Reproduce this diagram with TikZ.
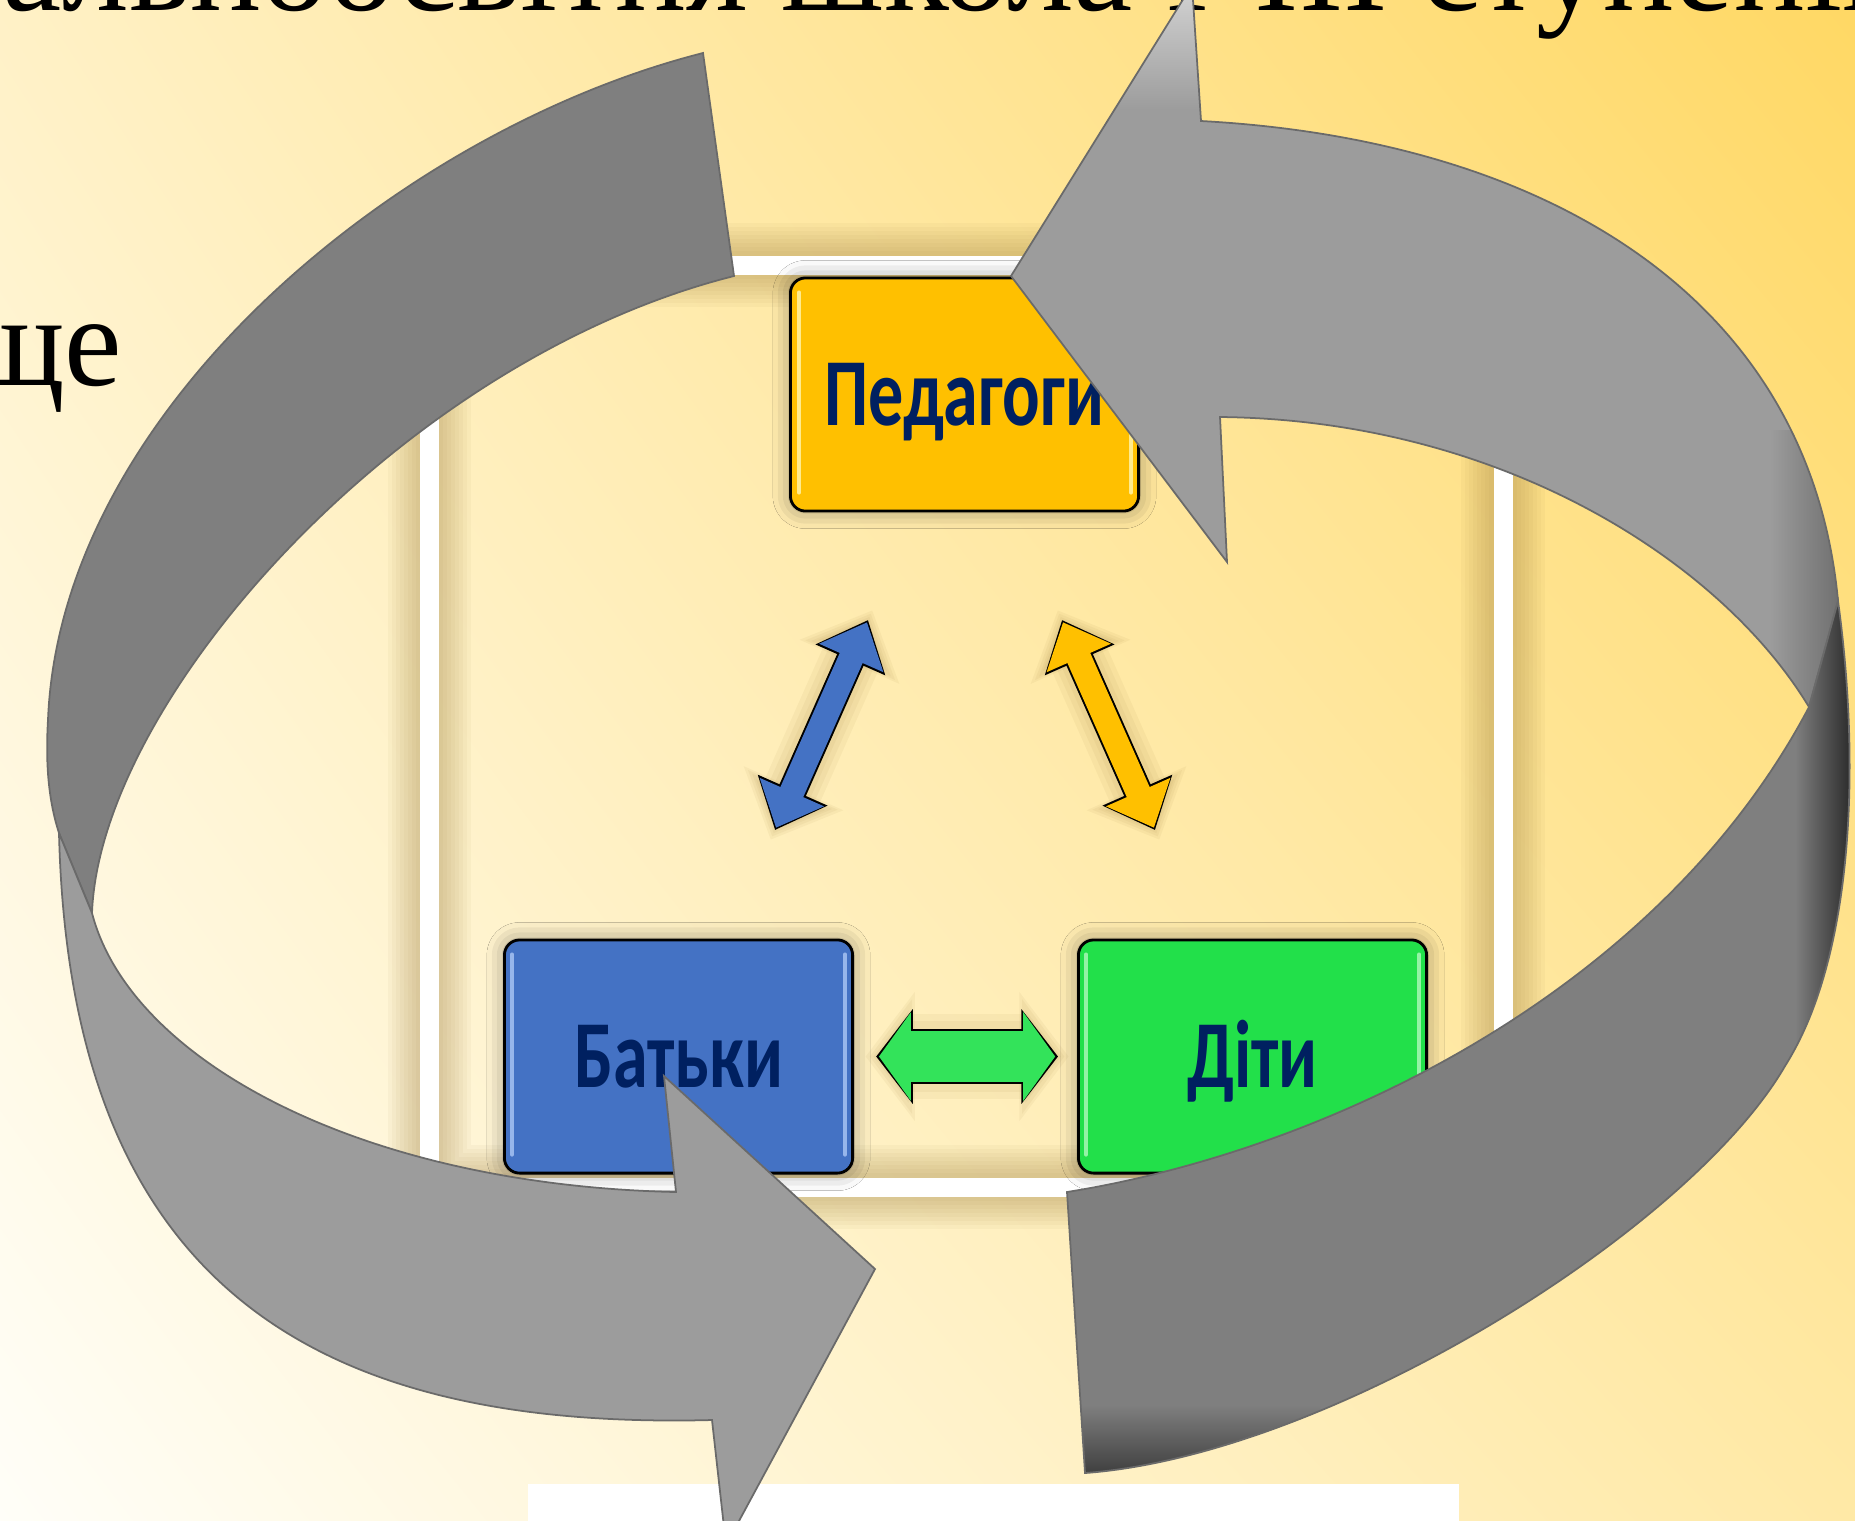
\documentclass[tikz,border=0pt]{standalone}
\usepackage{fontspec}
\setmainfont{Liberation Serif}
\newfontfamily\boxfont{Carlito}
\usetikzlibrary{arrows.meta,shadows.blur,shadings,calc}
\definecolor{bgUL}{HTML}{FFF1C6}
\definecolor{bgUR}{HTML}{FFD864}
\definecolor{bgLL}{HTML}{FFFEF8}
\definecolor{bgLR}{HTML}{FFE9A6}
\definecolor{frameSh}{HTML}{9C7E3C}
\definecolor{navy}{HTML}{002060}
\definecolor{pedC}{HTML}{FFC000}
\definecolor{batC}{HTML}{4472C4}
\definecolor{ditC}{HTML}{22E04A}
\definecolor{grnA}{HTML}{33E35A}
\definecolor{pedGl}{HTML}{FFF3A6}
\definecolor{batGl}{HTML}{A6C2F2}
\definecolor{ditGl}{HTML}{A8F7B5}
\definecolor{gLight}{HTML}{9C9C9C}
\definecolor{gDark}{HTML}{7F7F7F}
\definecolor{gEdge}{HTML}{6A6A6A}
\definecolor{gBlack}{HTML}{1E1E1E}
\definecolor{gHigh}{HTML}{D6D6D6}

\newcommand\LDarkPath{(703,53) .. controls (400,130) and (60,410) .. (48,720) .. controls (45,770) and (50,805) .. (59,833) -- (92,913) .. controls (100,700) and (400,360) .. (734,276) -- cycle}
\newcommand\LLightPath{(59,833) .. controls (70,1290) and (320,1430) .. (712,1420) -- (726,1545) -- (875,1269) -- (664,1076) -- (676,1192) .. controls (360,1185) and (130,1060) .. (92,913) -- cycle}
\newcommand\RLightPath{(1011,276) -- (1192,-15) -- (1201,121) .. controls (1550,140) and (1810,300) .. (1838,601) -- (1809,707) .. controls (1720,560) and (1500,420) .. (1220,417) -- (1227,562) -- cycle}
\newcommand\RDarkPath{(1809,707) -- (1838,601) .. controls (1860,760) and (1855,955) .. (1785,1066) .. controls (1690,1230) and (1330,1455) .. (1085,1473) -- (1067,1192) .. controls (1330,1150) and (1660,990) .. (1809,707) -- cycle}

\tikzset{
  box/.style={draw=black, line width=0.8pt, rounded corners=4.3pt,
    minimum width=3.48cm, minimum height=2.33cm, inner sep=0pt, text=navy,
    font=\boxfont\bfseries\fontsize{27.3pt}{30pt}\selectfont,
    text height=17.4pt, text depth=0pt,
    blur shadow={shadow xshift=0pt,shadow yshift=0pt,shadow blur radius=5pt,shadow opacity=40}},
  gloss/.style={line width=1.2pt, line cap=round, opacity=0.85},
  bigedge/.style={draw=gEdge, line width=0.5pt},
  titletext/.style={font=\fontsize{37.9pt}{41pt}\selectfont, inner sep=0pt},
  outl/.style={black},
  glow/.style={frameSh, opacity=0.07},
}
\newcommand\DiagGlow[2]{%
  \draw[glow, line width=17pt, shorten <=-3pt, shorten >=-3pt, {Triangle[length=16pt,width=30pt]}-{Triangle[length=16pt,width=30pt]}] (#1) -- (#2);
  \draw[glow, line width=14pt, shorten <=-2pt, shorten >=-2pt, {Triangle[length=14.5pt,width=27pt]}-{Triangle[length=14.5pt,width=27pt]}] (#1) -- (#2);
  \draw[glow, line width=11pt, shorten <=-1pt, shorten >=-1pt, {Triangle[length=13pt,width=24pt]}-{Triangle[length=13pt,width=24pt]}] (#1) -- (#2);
}

\begin{document}
\begin{tikzpicture}[x=0.01cm,y=-0.01cm]
\useasboundingbox (0,0) rectangle (1855,1520);
\clip (0,0) rectangle (1855,1520);
% background
\shade[upper left=bgUL,upper right=bgUR,lower left=bgLL,lower right=bgLR] (0,0) rectangle (1855,1520);

% texts of the slide
\node[titletext, anchor=base east] (title) at (1906,10) {Загальноосвітня школа І-ІІІ ступенів};
\node[titletext, anchor=base east, font=\fontsize{36.8pt}{40pt}\selectfont] (sche) at (123,385) {ще};

% picture frame with soft shadow
\foreach \k in {1,...,8} {\draw[frameSh, opacity=0.05, line width=5.4pt+\k*2.3pt] (429.5,265) rectangle (1503,1187);}
\draw[white, line width=5.4pt] (429.5,265) rectangle (1503,1187);

% boxes
\node[box, fill=pedC] (ped) at (964.5,394.5) {\scalebox{0.73}[1]{Педагоги}};
\node[box, fill=batC] (bat) at (678.5,1056.5) {\scalebox{0.73}[1]{Батьки}};
\node[box, fill=ditC] (dit) at (1252.5,1056.5) {\scalebox{0.73}[1]{Діти}};
\draw[gloss, pedGl] ($(ped.north west)+(10,16)$) -- ($(ped.south west)+(10,-20)$);
\draw[gloss, pedGl] ($(ped.north east)+(-9,16)$) -- ($(ped.south east)+(-9,-20)$);
\draw[gloss, batGl] ($(bat.north west)+(9,16)$) -- ($(bat.south west)+(9,-20)$);
\draw[gloss, batGl] ($(bat.north east)+(-9,16)$) -- ($(bat.south east)+(-9,-20)$);
\draw[gloss, ditGl] ($(dit.north west)+(9,16)$) -- ($(dit.south west)+(9,-20)$);
\draw[gloss, ditGl] ($(dit.north east)+(-9,16)$) -- ($(dit.south east)+(-9,-20)$);

% double arrows between the boxes
\coordinate (bA) at (775,830); \coordinate (bB) at (868,620);
\coordinate (yA) at (1062,620); \coordinate (yB) at (1155,830);
\DiagGlow{bA}{bB}
\DiagGlow{yA}{yB}
\draw[glow, line width=24pt, shorten <=3.3pt, shorten >=2.4pt, {Triangle[length=14pt,width=36pt]}-{Triangle[length=14pt,width=36pt]}] (bat.east) -- (dit.west);
\draw[glow, line width=20pt, shorten <=4.5pt, shorten >=3.6pt, {Triangle[length=12pt,width=32pt]}-{Triangle[length=12pt,width=32pt]}] (bat.east) -- (dit.west);
\draw[outl, line width=8.2pt, {Triangle[length=12.4pt,width=20.9pt]}-{Triangle[length=12.4pt,width=20.9pt]}] (bA) -- (bB);
\draw[batC, line width=7.1pt, shorten <=0.7pt, shorten >=0.7pt, {Triangle[length=11.1pt,width=19.3pt]}-{Triangle[length=11.1pt,width=19.3pt]}] (bA) -- (bB);
\draw[outl, line width=8.2pt, {Triangle[length=12.4pt,width=20.9pt]}-{Triangle[length=12.4pt,width=20.9pt]}] (yA) -- (yB);
\draw[pedC, line width=7.1pt, shorten <=0.7pt, shorten >=0.7pt, {Triangle[length=11.1pt,width=19.3pt]}-{Triangle[length=11.1pt,width=19.3pt]}] (yA) -- (yB);
\draw[outl, line width=15.6pt, shorten <=6.3pt, shorten >=5.4pt, {Triangle[length=10.4pt,width=26.4pt]}-{Triangle[length=10.4pt,width=26.4pt]}] (bat.east) -- (dit.west);
\draw[grnA, line width=14.5pt, shorten <=7.1pt, shorten >=6.2pt, {Triangle[length=9.1pt,width=24.8pt]}-{Triangle[length=9.1pt,width=24.8pt]}] (bat.east) -- (dit.west);

% white strip at the bottom
\fill[white] (528,1484) rectangle (1459,1530);

% big grey circular arrows
\fill[gDark] \LDarkPath;
\draw[bigedge] \LDarkPath;
\fill[gLight] \LLightPath;
\draw[bigedge] \LLightPath;

\fill[gLight] \RLightPath;
\begin{scope}
  \clip \RLightPath;
  \shade[top color=gHigh, bottom color=gLight] (1120,-20) rectangle (1215,110);
  \shade[left color=gLight, right color=gDark!85!black] (1770,430) rectangle (1845,720);
\end{scope}
\draw[bigedge] \RLightPath;
\fill[gDark] \RDarkPath;
\begin{scope}
  \clip \RDarkPath;
  \shade[left color=gDark, right color=gBlack] (1795,560) rectangle (1860,1120);
  \shade[top color=gDark, bottom color=gDark!45!black] (1060,1405) rectangle (1320,1480);
\end{scope}
\draw[bigedge] \RDarkPath;
\end{tikzpicture}
\end{document}
